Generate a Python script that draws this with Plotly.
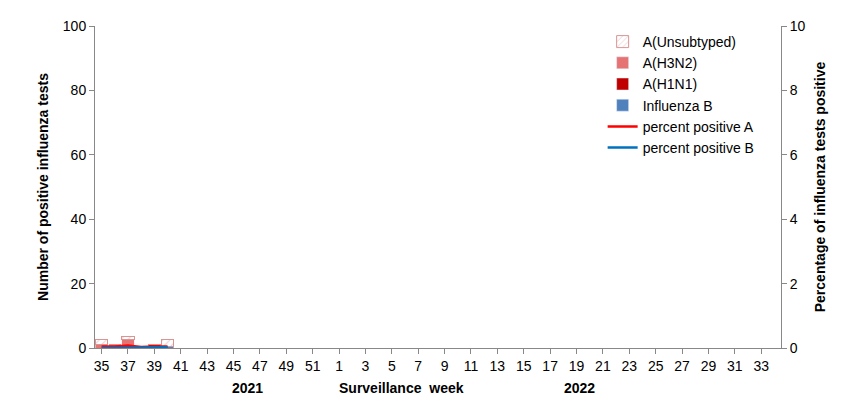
import plotly.graph_objects as go

weeks = [str(w) for w in list(range(35, 53)) + list(range(1, 35))]
tick_weeks = [w for w in weeks if int(w) % 2 == 1]
a_unsub = [1.5, 0, 1, 0, 0, 2] + [None]*46
a_h3n2 = [1, 1, 2.5, 0.5, 0, 0] + [None]*46
a_h1n1 = [0, 0, 0, 0, 1, 0] + [None]*46
flu_b = [0, 0, 0, 0, 0, 0.5] + [None]*46
pct_a = [0.05, 0.05, 0.08, 0.03, 0.05, 0.05] + [None]*46
pct_b = [0, 0, 0, 0, 0, 0.02] + [None]*46

fig = go.Figure()
fig.add_bar(x=weeks, y=flu_b, name="Influenza B", marker_color="#4f81bd", legendrank=4)
fig.add_bar(x=weeks, y=a_h1n1, name="A(H1N1)", marker_color="#c00000", legendrank=3)
fig.add_bar(x=weeks, y=a_h3n2, name="A(H3N2)", marker_color="#e57373", legendrank=2)
fig.add_bar(x=weeks, y=a_unsub, name="A(Unsubtyped)", legendrank=1,
            marker=dict(color="white", line=dict(color="#d99594", width=1),
                        pattern=dict(shape="/", fgcolor="#d99594", size=5)))
fig.add_scatter(x=weeks, y=pct_a, name="percent positive A", mode="lines", legendrank=5,
                line=dict(color="#ff0000", width=2.5), yaxis="y2")
fig.add_scatter(x=weeks, y=pct_b, name="percent positive B", mode="lines", legendrank=6,
                line=dict(color="#0070c0", width=2.5), yaxis="y2")

fig.update_layout(
    width=856, height=406, barmode="stack", bargap=0.05,
    plot_bgcolor="white", paper_bgcolor="white",
    font=dict(family="Liberation Sans, Arial", size=14, color="black"),
    margin=dict(l=87, r=83, t=18, b=66, autoexpand=False),
    xaxis=dict(type="category", categoryorder="array", categoryarray=weeks, tickvals=tick_weeks,
               ticktext=tick_weeks, showline=True, linecolor="#888", ticks="outside", tickcolor="#888",
               tickangle=0, tickfont=dict(size=14), automargin=False),
    yaxis=dict(range=[0, 100], dtick=20, showline=True, linecolor="#888", ticks="outside", tickcolor="#888",
               showgrid=False, automargin=False,
               title=dict(text="<b>Number of positive influenza tests</b>", font=dict(size=14), standoff=10)),
    yaxis2=dict(range=[0, 10], dtick=2, overlaying="y", side="right", showline=True, linecolor="#888",
                ticks="outside", tickcolor="#888", showgrid=False, automargin=False,
                title=dict(text="<b>Percentage of influenza tests positive</b>", font=dict(size=14), standoff=10)),
    legend=dict(x=0.74, y=1.0, xanchor="left", yanchor="top", traceorder="normal",
                bgcolor="rgba(0,0,0,0)", font=dict(size=14), tracegroupgap=0, itemwidth=30),
)
for txt, x in [("<b>2021</b>", 222), ("<b>Surveillance  week</b>", 393), ("<b>2022</b>", 589)]:
    fig.add_annotation(text=txt, x=(x-87)/686, y=-0.155, xref="paper", yref="paper", showarrow=False, font=dict(size=14))
fig.write_html("out.html")
